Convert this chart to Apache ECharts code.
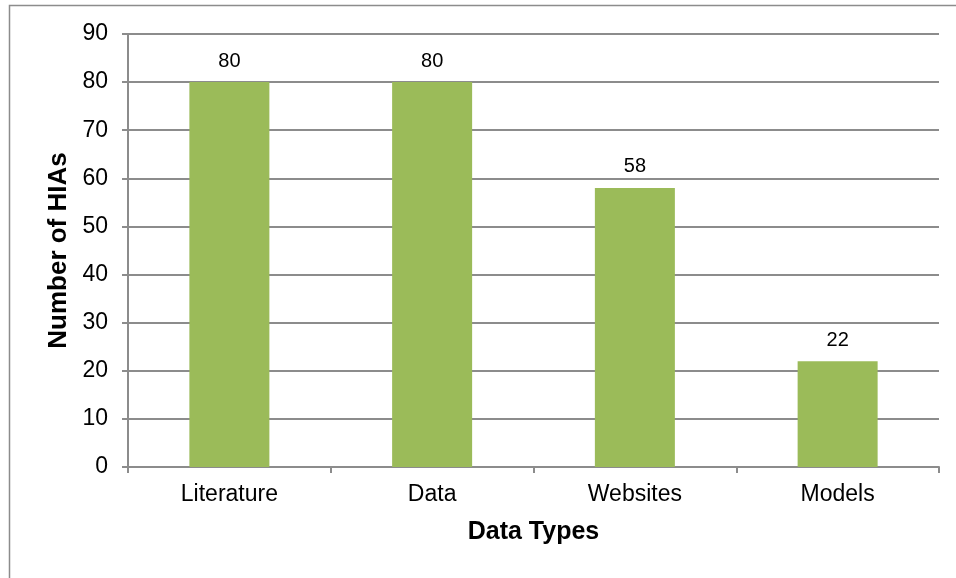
<!DOCTYPE html>
<html>
<head>
<meta charset="utf-8">
<script src="https://cdn.jsdelivr.net/npm/echarts@6/dist/echarts.min.js"></script>
<style>
  html, body { margin: 0; padding: 0; background: #fff; }
  #chart { width: 956px; height: 578px; }
</style>
</head>
<body>
<div id="chart"></div>
<script>
// HIA counts by type of data source
const categories = ['Literature', 'Data', 'Websites', 'Models'];
const hiaCounts = [80, 80, 58, 22];
const yMin = 0;
const yMax = 90;
const yStep = 10;

const chart = echarts.init(document.getElementById('chart'), null, { renderer: 'canvas' });
const font = '"Liberation Sans", Arial, sans-serif';
const gridGray = '#8c8c8c';

chart.setOption({
  animation: false,
  backgroundColor: '#ffffff',
  graphic: [{
    type: 'rect',
    shape: { x: 9.5, y: 5.5, width: 1200, height: 1200 },
    style: { fill: 'none', stroke: '#8c8c8c', lineWidth: 1.5 },
    silent: true,
    z: 0
  }],
  grid: { left: 128, right: 17, top: 34, bottom: 111, containLabel: false },
  xAxis: {
    type: 'category',
    data: categories,
    name: 'Data Types',
    nameLocation: 'middle',
    nameGap: 53,
    nameTextStyle: { fontFamily: font, fontSize: 25, fontWeight: 'bold', color: '#000' },
    axisLine: { lineStyle: { color: gridGray, width: 2 } },
    axisTick: { show: true, length: 6, lineStyle: { color: gridGray, width: 2 } },
    axisLabel: { fontFamily: font, fontSize: 23, color: '#000', margin: 16 },
    splitLine: { show: false }
  },
  yAxis: {
    type: 'value',
    min: yMin,
    max: yMax,
    interval: yStep,
    name: 'Number of HIAs',
    nameLocation: 'middle',
    nameGap: 55,
    nameTextStyle: { fontFamily: font, fontSize: 26, fontWeight: 'bold', color: '#000' },
    axisLine: { show: true, lineStyle: { color: gridGray, width: 2 } },
    axisTick: { show: true, length: 6, lineStyle: { color: gridGray, width: 2 } },
    axisLabel: { fontFamily: font, fontSize: 23, color: '#000', margin: 20 },
    splitLine: { show: true, lineStyle: { color: gridGray, width: 2 } }
  },
  series: [{
    type: 'bar',
    data: hiaCounts,
    barWidth: 80,
    itemStyle: { color: '#9bbb59' },
    label: {
      show: true,
      position: 'top',
      distance: 11,
      fontFamily: font,
      fontSize: 20,
      color: '#000'
    }
  }]
});
</script>
</body>
</html>
